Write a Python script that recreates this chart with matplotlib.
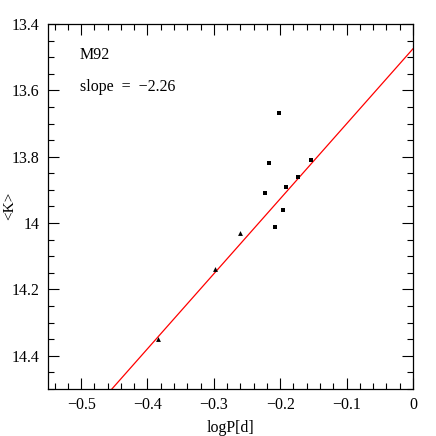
import numpy as np
import matplotlib
matplotlib.use("Agg")
import matplotlib.pyplot as plt
from matplotlib.ticker import MultipleLocator

plt.rcParams['font.family'] = ['Liberation Serif', 'DejaVu Serif']
plt.rcParams['axes.unicode_minus'] = True

# data
logp_sq = [-0.202, -0.2165, -0.1537, -0.1728, -0.1918, -0.2225, -0.1959, -0.2084]
k_sq = [13.669, 13.82, 13.81, 13.86, 13.89, 13.91, 13.96, 14.011]
logp_tri = [-0.2607, -0.2983, -0.3847]
k_tri = [14.031, 14.138, 14.349]
slope = -2.26
zp = 13.475

fig = plt.figure(figsize=(4.36, 4.36), dpi=100)
ax = fig.add_axes([0.110, 0.108, 0.837, 0.837])

xx = np.array([-0.55, 0.0])
ax.plot(xx, zp + slope * xx, color='red', lw=0.9)
ax.plot(logp_sq, k_sq, 's', color='black', ms=3.2, mew=0)
ax.plot(logp_tri, k_tri, '^', color='black', ms=3.5, mew=0)

ax.set_xlim(-0.55, 0)
ax.set_ylim(14.5, 13.4)
ax.xaxis.set_major_locator(MultipleLocator(0.1))
ax.xaxis.set_minor_locator(MultipleLocator(0.02))
ax.yaxis.set_major_locator(MultipleLocator(0.2))
ax.yaxis.set_minor_locator(MultipleLocator(0.05))
ax.tick_params(which='both', direction='in', top=True, right=True, labelsize=11.5, pad=6)
ax.tick_params(which='major', length=8, width=0.8)
ax.tick_params(which='minor', length=4, width=0.8)
ax.set_xticks([-0.5, -0.4, -0.3, -0.2, -0.1, 0])
ax.set_xticklabels(['\u22120.5', '\u22120.4', '\u22120.3', '\u22120.2', '\u22120.1', '0'])
ax.set_yticks([13.4, 13.6, 13.8, 14, 14.2, 14.4])
ax.set_yticklabels(['13.4', '13.6', '13.8', '14', '14.2', '14.4'])
for s in ax.spines.values():
    s.set_linewidth(0.9)

ax.set_xlabel('logP[d]', fontsize=11.5, labelpad=5)
# y label placed by hand so it stays inside the figure
fig.text(0.022, 0.527, '<K>', rotation=90, fontsize=11, ha='center', va='center')

ax.text(0.088, 0.915, 'M92', transform=ax.transAxes, fontsize=11.5, va='center')
ax.text(0.088, 0.827, 'slope  =  \u22122.26', transform=ax.transAxes, fontsize=11.5, va='center')

fig.savefig('out.png', dpi=100)
